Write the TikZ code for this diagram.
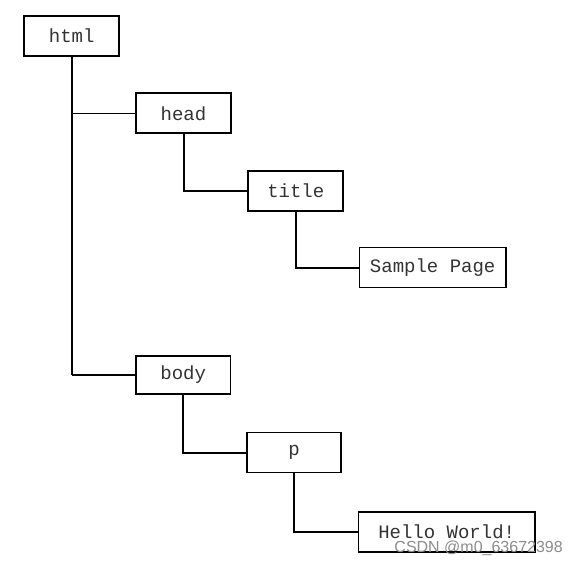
\documentclass[tikz,border=0pt]{standalone}
\usepackage{fontspec}
\setmonofont{Liberation Mono}
\newfontfamily\wmfont{Liberation Sans}
\begin{document}
\begin{tikzpicture}[x=1pt,y=-1pt,
  tag/.style={draw=black,line width=1.8pt,fill=white,inner sep=0pt,text=black!80,
    font=\ttfamily\fontsize{19}{22}\selectfont,minimum height=40pt},
  link/.style={draw=black,line width=2pt},
  thinlink/.style={draw=black,line width=1.2pt}]
\useasboundingbox (0,0) rectangle (578,567);
\node[tag,minimum width=95pt] (html) at (71.7,35.7) {html};
\node[tag,minimum width=95pt] (head) at (183.5,113.3) {head};
\node[tag,minimum width=95pt] (title) at (295.8,191) {title};
\node[tag,minimum width=146.5pt] (sample) at (432.7,267.5) {Sample Page};
\node[tag,minimum width=94.6pt,minimum height=38.6pt] (body) at (183.2,375) {body};
\node[tag,minimum width=94.3pt] (p) at (294,452.5) {p};
\node[tag,minimum width=176.5pt] (hello) at (446.7,532) {Hello World!};
\draw[link] (html.south) -- (html.south |- body.west);
\draw[thinlink] (html.south |- head.west) -- (head.west);
\draw[thinlink] (html.south |- body.west) -- (body.west);
\draw[link] (head.south) |- (title.west);
\draw[link] (title.south) |- (sample.west);
\draw[link] (body.south) |- (p.west);
\draw[link] (p.south) |- (hello.west);
\node[font=\wmfont\fontsize{16}{18}\selectfont,text=black!45,inner sep=0pt,anchor=east] (wm) at (563,548) {CSDN @m0\_63672398};
\end{tikzpicture}
\end{document}
